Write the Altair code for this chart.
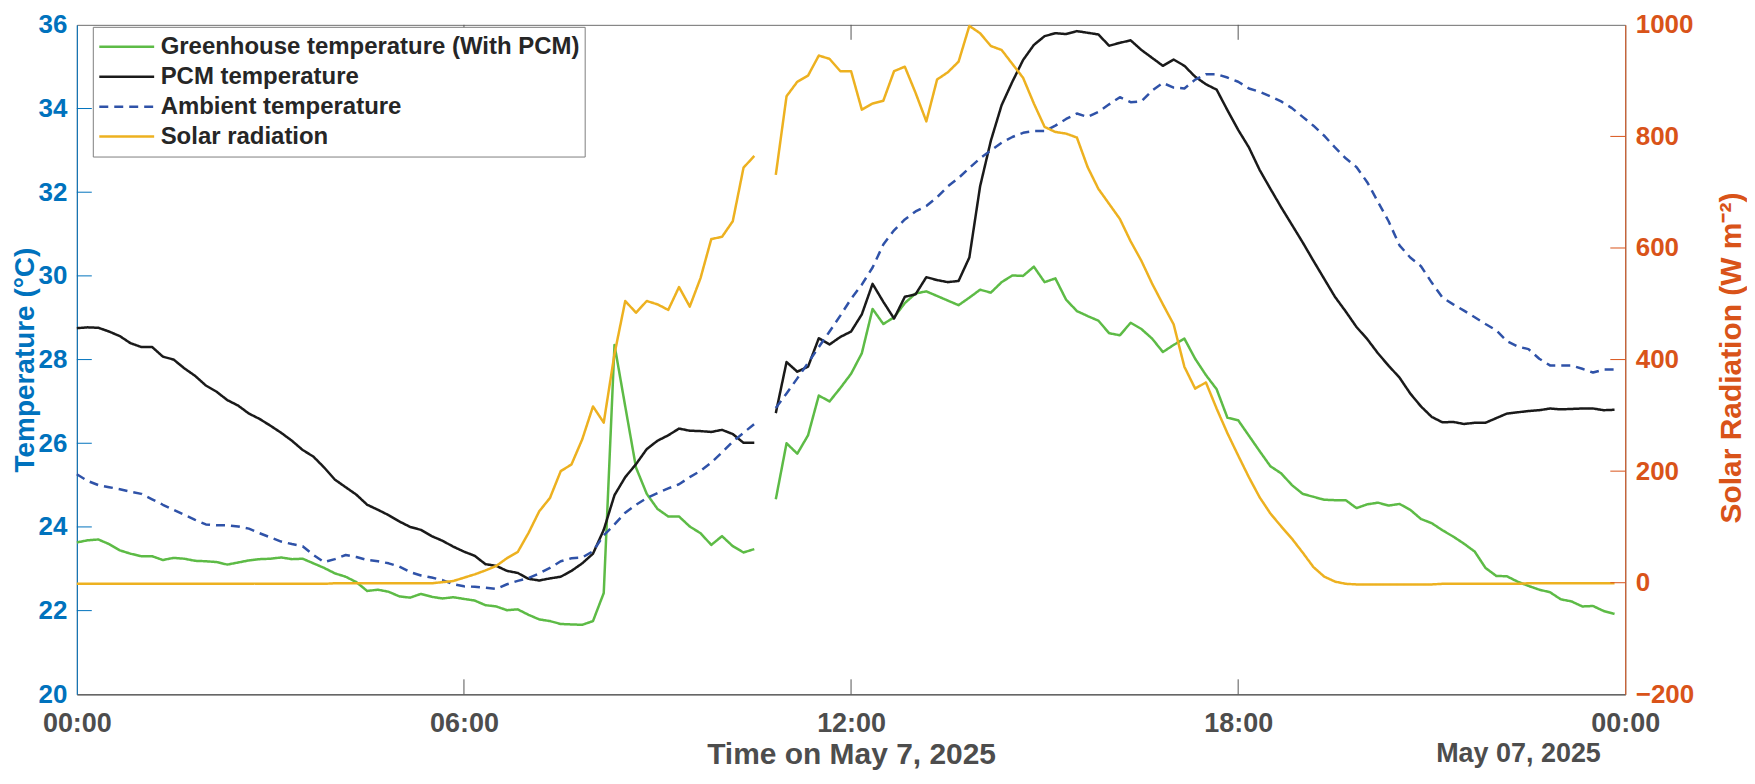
import altair as alt
import pandas as pd

FONT = "Liberation Sans"
BLUE_AX = "#0072BD"
ORANGE_AX = "#D95319"
GREY_TXT = "#4D4D4D"

SERIES = ["Greenhouse temperature (With PCM)", "PCM temperature",
          "Ambient temperature", "Solar radiation"]
COLORS = ["#5DBB46", "#1A1A1A", "#2F52A8", "#EDB120"]
DASHES = [[1, 0], [1, 0], [9, 6], [1, 0]]
WIDTHS = [2.5, 2.5, 2.5, 1.3]

# 10-minute readings from 00:00 to 23:50 (six values per hour); None = missing record
greenhouse = [
    23.63, 23.68, 23.70, 23.59, 23.44, 23.36,
    23.30, 23.30, 23.21, 23.26, 23.24, 23.19,
    23.18, 23.16, 23.10, 23.15, 23.20, 23.23,
    23.24, 23.27, 23.23, 23.24, 23.13, 23.02,
    22.89, 22.81, 22.68, 22.47, 22.50, 22.45,
    22.34, 22.31, 22.40, 22.33, 22.29, 22.32,
    22.28, 22.24, 22.13, 22.10, 22.01, 22.03,
    21.90, 21.79, 21.75, 21.68, 21.67, 21.66,
    21.75, 22.42, 28.35, 26.88, 25.42, 24.79,
    24.43, 24.25, 24.25, 24.01, 23.85, 23.57,
    23.78, 23.54, 23.39, 23.47, None, 24.66,
    26.00, 25.75, 26.19, 27.14, 27.00, 27.32,
    27.66, 28.15, 29.21, 28.85, 29.01, 29.35,
    29.58, 29.63, 29.52, 29.41, 29.30, 29.48,
    29.67, 29.60, 29.85, 30.01, 30.00, 30.22,
    29.85, 29.94, 29.43, 29.16, 29.04, 28.93,
    28.63, 28.58, 28.88, 28.73, 28.50, 28.18,
    28.35, 28.50, 28.02, 27.63, 27.29, 26.61,
    26.55, 26.18, 25.81, 25.45, 25.28, 25.00,
    24.79, 24.72, 24.65, 24.64, 24.64, 24.45,
    24.54, 24.58, 24.51, 24.55, 24.41, 24.19,
    24.09, 23.92, 23.77, 23.60, 23.41, 23.02,
    22.83, 22.82, 22.69, 22.59, 22.50, 22.44,
    22.27, 22.22, 22.10, 22.11, 21.99, 21.92,
]
pcm = [
    28.75, 28.77, 28.76, 28.67, 28.56, 28.39,
    28.30, 28.30, 28.07, 28.00, 27.79, 27.61,
    27.38, 27.23, 27.03, 26.90, 26.71, 26.58,
    26.42, 26.25, 26.06, 25.84, 25.68, 25.42,
    25.13, 24.95, 24.77, 24.53, 24.41, 24.28,
    24.13, 24.00, 23.93, 23.78, 23.67, 23.53,
    23.41, 23.31, 23.11, 23.07, 22.95, 22.90,
    22.76, 22.72, 22.77, 22.81, 22.95, 23.13,
    23.36, 23.93, 24.76, 25.19, 25.50, 25.86,
    26.06, 26.19, 26.35, 26.30, 26.29, 26.27,
    26.32, 26.22, 26.01, 26.01, None, 26.72,
    27.94, 27.71, 27.83, 28.51, 28.36, 28.54,
    28.67, 29.08, 29.81, 29.38, 28.98, 29.50,
    29.56, 29.97, 29.90, 29.85, 29.88, 30.44,
    32.14, 33.23, 34.08, 34.64, 35.16, 35.52,
    35.73, 35.80, 35.78, 35.85, 35.81, 35.77,
    35.50, 35.57, 35.63, 35.40, 35.21, 35.02,
    35.17, 35.02, 34.76, 34.58, 34.45, 33.96,
    33.49, 33.07, 32.53, 32.08, 31.64, 31.22,
    30.80, 30.36, 29.93, 29.50, 29.15, 28.78,
    28.49, 28.15, 27.85, 27.57, 27.19, 26.88,
    26.63, 26.50, 26.51, 26.46, 26.49, 26.49,
    26.60, 26.71, 26.74, 26.77, 26.79, 26.83,
    26.81, 26.82, 26.83, 26.83, 26.79, 26.80,
]
ambient = [
    25.26, 25.10, 25.00, 24.95, 24.90, 24.84,
    24.79, 24.66, 24.53, 24.41, 24.29, 24.17,
    24.06, 24.04, 24.04, 24.01, 23.96, 23.85,
    23.75, 23.65, 23.59, 23.54, 23.33, 23.16,
    23.23, 23.33, 23.28, 23.21, 23.18, 23.13,
    23.05, 22.92, 22.84, 22.79, 22.73, 22.63,
    22.58, 22.57, 22.55, 22.52, 22.63, 22.71,
    22.78, 22.89, 23.02, 23.18, 23.25, 23.27,
    23.42, 23.80, 24.06, 24.34, 24.53, 24.69,
    24.81, 24.92, 25.02, 25.19, 25.34, 25.54,
    25.78, 26.04, 26.25, 26.46, None, 26.84,
    27.19, 27.55, 27.92, 28.30, 28.67, 29.05,
    29.45, 29.79, 30.20, 30.75, 31.09, 31.35,
    31.54, 31.67, 31.88, 32.14, 32.34, 32.58,
    32.81, 33.00, 33.18, 33.32, 33.42, 33.46,
    33.46, 33.59, 33.75, 33.88, 33.80, 33.92,
    34.10, 34.27, 34.15, 34.17, 34.43, 34.61,
    34.50, 34.48, 34.69, 34.82, 34.82, 34.74,
    34.64, 34.48, 34.40, 34.29, 34.17, 34.01,
    33.80, 33.59, 33.35, 33.07, 32.81, 32.60,
    32.24, 31.77, 31.30, 30.73, 30.44, 30.23,
    29.84, 29.48, 29.32, 29.17, 29.01, 28.85,
    28.70, 28.44, 28.31, 28.25, 28.02, 27.86,
    27.86, 27.86, 27.78, 27.69, 27.76, 27.76,
]
solar = [
    -2, -2, -2, -2, -2, -2,
    -2, -2, -2, -2, -2, -2,
    -2, -2, -2, -2, -2, -2,
    -2, -2, -2, -2, -2, -2,
    -1, -1, -1, -1, -1, -1,
    -1, -1, -1, -1, 1, 3,
    9, 15, 22, 30, 44, 55,
    89, 128, 152, 200, 212, 257,
    316, 287, 410, 505, 484, 505,
    499, 489, 530, 495, 546, 616,
    620, 648, 744, 765, None, 731,
    872, 898, 909, 945, 939, 917,
    917, 848, 859, 864, 917, 925,
    878, 827, 902, 915, 934, 998,
    985, 962, 955, 930, 905, 859,
    817, 808, 805, 798, 745, 706,
    679, 652, 612, 577, 536, 499,
    463, 387, 348, 359, 312, 268,
    228, 189, 153, 124, 101, 79,
    54, 28, 11, 2, -2, -3,
    -3, -3, -3, -3, -3, -3,
    -3, -2, -2, -2, -2, -2,
    -2, -2, -2, -1, -1, -1,
    -1, -1, -1, -1, -1, -1,
]

temp_ticks = [20, 22, 24, 26, 28, 30, 32, 34, 36]
solar_ticks = [-200, 0, 200, 400, 600, 800, 1000]
time_tick_hours = [0, 6, 12, 18, 24]
x_title = "Time on May 7, 2025"
date_label = "May 07, 2025"
GAP_INDEX = 64  # 10:40 record missing

W, H = 1552, 671


def stamp(i):
    m = 10 * i
    return f"2025-05-07T{m // 60:02d}:{m % 60:02d}:00"


def frame(name, values):
    rows = []
    for i, v in enumerate(values):
        if v is None:
            continue
        rows.append({"time": stamp(i), "value": v, "series": name,
                     "seg": 0 if i < GAP_INDEX else 1})
    return pd.DataFrame(rows)


def dt(h):
    return alt.DateTime(year=2025, month=5, date=7 + h // 24, hours=h % 24)


temp_df = pd.concat([frame(SERIES[0], greenhouse), frame(SERIES[1], pcm),
                     frame(SERIES[2], ambient)], ignore_index=True)
solar_df = frame(SERIES[3], solar)

x_scale = alt.Scale(domain=[dt(0), dt(24)], nice=False)
temp_scale = alt.Scale(domain=[temp_ticks[0], temp_ticks[-1]], nice=False, zero=False)
solar_scale = alt.Scale(domain=[solar_ticks[0], solar_ticks[-1]], nice=False, zero=False)

x_axis = alt.Axis(values=[dt(h) for h in time_tick_hours], format="%H:%M",
                  labelFlush=False, ticks=False, tickSize=0, grid=False,
                  domainColor="#666666", domainWidth=1.5,
                  labelColor=GREY_TXT, labelFont=FONT, labelFontSize=27,
                  labelFontWeight="bold", labelBaseline="alphabetic",
                  labelPadding=37, labelOverlap=False,
                  title=x_title, titleColor=GREY_TXT, titleFont=FONT,
                  titleFontSize=30, titleFontWeight="bold",
                  titleX=W / 2, titleY=69, titleBaseline="alphabetic",
                  titleAlign="center")

left_axis = alt.Axis(values=temp_ticks, orient="left", grid=False, ticks=False,
                     tickSize=0, domainColor=BLUE_AX, domainWidth=1,
                     labelColor=BLUE_AX, labelFont=FONT, labelFontSize=26,
                     labelFontWeight="bold", labelPadding=10, labelOverlap=False,
                     title="Temperature (°C)", titleColor=BLUE_AX, titleFont=FONT,
                     titleFontSize=28, titleFontWeight="bold", titleAngle=270,
                     titleX=-43, titleY=H / 2, titleBaseline="alphabetic",
                     titleAlign="center")
right_axis = alt.Axis(values=solar_ticks, orient="right", grid=False, ticks=False,
                      tickSize=0, domainColor=ORANGE_AX, domainWidth=1, format="d",
                      labelColor=ORANGE_AX, labelFont=FONT, labelFontSize=26,
                      labelFontWeight="bold", labelPadding=10, labelOverlap=False,
                      title="Solar Radiation (W m⁻²)", titleColor=ORANGE_AX,
                      titleFont=FONT, titleFontSize=30, titleFontWeight="bold",
                      titleAngle=270, titleX=115, titleY=H / 2 - 2,
                      titleBaseline="alphabetic", titleAlign="center")

legend = alt.Legend(title=None, orient="none", legendX=16, legendY=2,
                    direction="vertical", symbolType="stroke", symbolSize=3025,
                    clipHeight=30, rowPadding=0, labelOffset=5, padding=5,
                    labelFont=FONT, labelFontSize=24, labelFontWeight="bold",
                    labelColor="#262626", labelLimit=700,
                    strokeColor="#7F7F7F", fillColor="white")

color = alt.Color("series:N", scale=alt.Scale(domain=SERIES, range=COLORS), legend=legend)
dash = alt.StrokeDash("series:N", scale=alt.Scale(domain=SERIES, range=DASHES))
swidth = alt.StrokeWidth("series:N", scale=alt.Scale(domain=SERIES, range=WIDTHS))


def xenc(field="time"):
    return alt.X(f"{field}:T", scale=x_scale, axis=x_axis)


def ytemp(field):
    return alt.Y(f"{field}:Q", scale=temp_scale, axis=left_axis)


def ysolar(field):
    return alt.Y(f"{field}:Q", scale=solar_scale, axis=right_axis)


temp_lines = alt.Chart(temp_df).mark_line(strokeJoin="round").encode(
    x=xenc(), y=ytemp("value"),
    color=color, strokeDash=dash, strokeWidth=swidth, detail="seg:N")

solar_line = alt.Chart(solar_df).mark_line(strokeJoin="round").encode(
    x=xenc(), y=ysolar("value"),
    color=color, strokeDash=dash, strokeWidth=swidth, detail="seg:N")

TL = 15
left_ticks = alt.Chart(pd.DataFrame({"value": temp_ticks[1:-1]})).mark_rule(
    color=BLUE_AX, strokeWidth=1).encode(
    y=ytemp("value"), x=alt.value(0), x2=alt.value(TL))
right_ticks = alt.Chart(pd.DataFrame({"value": solar_ticks[1:-1]})).mark_rule(
    color=ORANGE_AX, strokeWidth=1).encode(
    y=ysolar("value"), x=alt.value(W - TL), x2=alt.value(W))

xt_df = pd.DataFrame({"time": [stamp(h * 6) for h in time_tick_hours[1:-1]]})
x_ticks_bottom = alt.Chart(xt_df).mark_rule(color="#555555", strokeWidth=1).encode(
    x=xenc(), y=alt.value(H - TL), y2=alt.value(H))
x_ticks_top = alt.Chart(xt_df).mark_rule(color="#555555", strokeWidth=1).encode(
    x=xenc(), y=alt.value(0), y2=alt.value(TL))

date_text = alt.Chart(pd.DataFrame({"label": [date_label]})).mark_text(
    align="center", baseline="alphabetic", font=FONT, fontSize=27,
    fontWeight="bold", color=GREY_TXT).encode(
    text="label:N", x=alt.value(1445), y=alt.value(H + 68))

left = alt.layer(temp_lines, left_ticks, x_ticks_bottom, x_ticks_top, date_text)
right = alt.layer(solar_line, right_ticks)

chart = alt.layer(left, right).resolve_scale(y="independent").properties(
    width=W, height=H,
    autosize=alt.AutoSizeParams(type="none"),
    padding={"left": 69, "top": 16, "right": 122, "bottom": 76},
).configure(font=FONT).configure_view(stroke="#6E6E6E", strokeWidth=1)

chart.save("out.html", embed_options={"renderer": "svg", "actions": False})
